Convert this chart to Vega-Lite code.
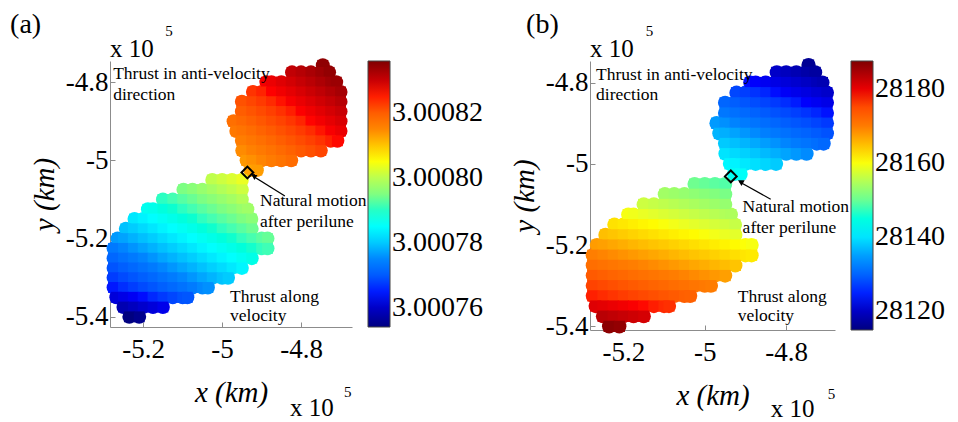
{
"$schema":"https://vega.github.io/schema/vega-lite/v6.json",
"autosize":{"type":"pad"},
"padding":{"left":10,"top":10,"right":0,"bottom":0},
"background":"white",
"spacing":238,
"bounds":"flush",
"config":{
"view":{"stroke":null},
"axis":{"labelFont":"Liberation Serif","labelFontSize":27,"labelColor":"black","titleFont":"Liberation Serif","titleFontSize":29,"titleFontStyle":"italic","titleFontWeight":"normal","titleColor":"black","domainColor":"#8c8c8c","tickColor":"#8c8c8c","tickSize":-5,"grid":false},
"legend":{"labelFont":"Liberation Serif","labelFontSize":28,"labelColor":"black","labelOffset":3,"labelOverlap":false,"gradientStrokeColor":"#444","gradientStrokeWidth":1,"gradientThickness":22,"direction":"vertical","orient":"none"}
},
"datasets":{
"pts":[
{"x":-4.745,"y":-4.757,"ca":3.0008347,"cb":28116.4},
{"x":-4.823,"y":-4.775,"ca":3.0008306,"cb":28120.3},
{"x":-4.8,"y":-4.775,"ca":3.0008315,"cb":28119.6},
{"x":-4.775,"y":-4.775,"ca":3.0008325,"cb":28118.8},
{"x":-4.75,"y":-4.775,"ca":3.0008335,"cb":28118.0},
{"x":-4.729,"y":-4.775,"ca":3.0008344,"cb":28117.4},
{"x":-4.888,"y":-4.8,"ca":3.0008266,"cb":28124.3},
{"x":-4.875,"y":-4.8,"ca":3.0008272,"cb":28123.9},
{"x":-4.85,"y":-4.8,"ca":3.0008282,"cb":28123.1},
{"x":-4.825,"y":-4.8,"ca":3.0008292,"cb":28122.3},
{"x":-4.8,"y":-4.8,"ca":3.0008302,"cb":28121.5},
{"x":-4.775,"y":-4.8,"ca":3.0008312,"cb":28120.8},
{"x":-4.75,"y":-4.8,"ca":3.0008322,"cb":28120.0},
{"x":-4.725,"y":-4.8,"ca":3.0008332,"cb":28119.2},
{"x":-4.711,"y":-4.8,"ca":3.0008337,"cb":28118.8},
{"x":-4.922,"y":-4.825,"ca":3.0008239,"cb":28127.3},
{"x":-4.9,"y":-4.825,"ca":3.0008248,"cb":28126.6},
{"x":-4.875,"y":-4.825,"ca":3.0008258,"cb":28125.8},
{"x":-4.85,"y":-4.825,"ca":3.0008268,"cb":28125.1},
{"x":-4.825,"y":-4.825,"ca":3.0008278,"cb":28124.3},
{"x":-4.8,"y":-4.825,"ca":3.0008288,"cb":28123.5},
{"x":-4.775,"y":-4.825,"ca":3.0008298,"cb":28122.7},
{"x":-4.75,"y":-4.825,"ca":3.0008308,"cb":28122.0},
{"x":-4.725,"y":-4.825,"ca":3.0008318,"cb":28121.2},
{"x":-4.7,"y":-4.825,"ca":3.0008328,"cb":28120.4},
{"x":-4.95,"y":-4.85,"ca":3.0008214,"cb":28130.1},
{"x":-4.925,"y":-4.85,"ca":3.0008224,"cb":28129.4},
{"x":-4.9,"y":-4.85,"ca":3.0008234,"cb":28128.6},
{"x":-4.875,"y":-4.85,"ca":3.0008244,"cb":28127.8},
{"x":-4.85,"y":-4.85,"ca":3.0008254,"cb":28127.0},
{"x":-4.825,"y":-4.85,"ca":3.0008264,"cb":28126.3},
{"x":-4.8,"y":-4.85,"ca":3.0008274,"cb":28125.5},
{"x":-4.775,"y":-4.85,"ca":3.0008284,"cb":28124.7},
{"x":-4.75,"y":-4.85,"ca":3.0008294,"cb":28123.9},
{"x":-4.725,"y":-4.85,"ca":3.0008304,"cb":28123.2},
{"x":-4.7,"y":-4.85,"ca":3.0008314,"cb":28122.4},
{"x":-4.95,"y":-4.875,"ca":3.00082,"cb":28132.1},
{"x":-4.925,"y":-4.875,"ca":3.000821,"cb":28131.3},
{"x":-4.9,"y":-4.875,"ca":3.000822,"cb":28130.6},
{"x":-4.875,"y":-4.875,"ca":3.000823,"cb":28129.8},
{"x":-4.85,"y":-4.875,"ca":3.000824,"cb":28129.0},
{"x":-4.825,"y":-4.875,"ca":3.000825,"cb":28128.2},
{"x":-4.8,"y":-4.875,"ca":3.000826,"cb":28127.5},
{"x":-4.775,"y":-4.875,"ca":3.000827,"cb":28126.7},
{"x":-4.75,"y":-4.875,"ca":3.000828,"cb":28125.9},
{"x":-4.725,"y":-4.875,"ca":3.000829,"cb":28125.1},
{"x":-4.7,"y":-4.875,"ca":3.00083,"cb":28124.4},
{"x":-4.971,"y":-4.9,"ca":3.0008178,"cb":28134.7},
{"x":-4.95,"y":-4.9,"ca":3.0008187,"cb":28134.1},
{"x":-4.925,"y":-4.9,"ca":3.0008197,"cb":28133.3},
{"x":-4.9,"y":-4.9,"ca":3.0008207,"cb":28132.5},
{"x":-4.875,"y":-4.9,"ca":3.0008217,"cb":28131.8},
{"x":-4.85,"y":-4.9,"ca":3.0008227,"cb":28131.0},
{"x":-4.825,"y":-4.9,"ca":3.0008237,"cb":28130.2},
{"x":-4.8,"y":-4.9,"ca":3.0008247,"cb":28129.4},
{"x":-4.775,"y":-4.9,"ca":3.0008257,"cb":28128.7},
{"x":-4.75,"y":-4.9,"ca":3.0008267,"cb":28127.9},
{"x":-4.725,"y":-4.9,"ca":3.0008277,"cb":28127.1},
{"x":-4.7,"y":-4.9,"ca":3.0008287,"cb":28126.3},
{"x":-4.964,"y":-4.925,"ca":3.0008167,"cb":28136.5},
{"x":-4.95,"y":-4.925,"ca":3.0008173,"cb":28136.1},
{"x":-4.925,"y":-4.925,"ca":3.0008183,"cb":28135.3},
{"x":-4.9,"y":-4.925,"ca":3.0008193,"cb":28134.5},
{"x":-4.875,"y":-4.925,"ca":3.0008203,"cb":28133.7},
{"x":-4.85,"y":-4.925,"ca":3.0008213,"cb":28133.0},
{"x":-4.825,"y":-4.925,"ca":3.0008223,"cb":28132.2},
{"x":-4.8,"y":-4.925,"ca":3.0008233,"cb":28131.4},
{"x":-4.775,"y":-4.925,"ca":3.0008243,"cb":28130.6},
{"x":-4.75,"y":-4.925,"ca":3.0008253,"cb":28129.9},
{"x":-4.725,"y":-4.925,"ca":3.0008263,"cb":28129.1},
{"x":-4.7,"y":-4.925,"ca":3.0008273,"cb":28128.3},
{"x":-4.95,"y":-4.95,"ca":3.0008159,"cb":28138.0},
{"x":-4.925,"y":-4.95,"ca":3.0008169,"cb":28137.3},
{"x":-4.9,"y":-4.95,"ca":3.0008179,"cb":28136.5},
{"x":-4.875,"y":-4.95,"ca":3.0008189,"cb":28135.7},
{"x":-4.85,"y":-4.95,"ca":3.0008199,"cb":28134.9},
{"x":-4.825,"y":-4.95,"ca":3.0008209,"cb":28134.2},
{"x":-4.8,"y":-4.95,"ca":3.0008219,"cb":28133.4},
{"x":-4.775,"y":-4.95,"ca":3.0008229,"cb":28132.6},
{"x":-4.75,"y":-4.95,"ca":3.0008239,"cb":28131.8},
{"x":-4.725,"y":-4.95,"ca":3.0008249,"cb":28131.1},
{"x":-4.708,"y":-4.95,"ca":3.0008256,"cb":28130.5},
{"x":-4.949,"y":-4.975,"ca":3.0008146,"cb":28140.0},
{"x":-4.925,"y":-4.975,"ca":3.0008155,"cb":28139.2},
{"x":-4.9,"y":-4.975,"ca":3.0008165,"cb":28138.5},
{"x":-4.875,"y":-4.975,"ca":3.0008175,"cb":28137.7},
{"x":-4.85,"y":-4.975,"ca":3.0008185,"cb":28136.9},
{"x":-4.825,"y":-4.975,"ca":3.0008195,"cb":28136.1},
{"x":-4.8,"y":-4.975,"ca":3.0008205,"cb":28135.4},
{"x":-4.775,"y":-4.975,"ca":3.0008215,"cb":28134.6},
{"x":-4.75,"y":-4.975,"ca":3.0008225,"cb":28133.8},
{"x":-4.938,"y":-5.0,"ca":3.0008136,"cb":28141.6},
{"x":-4.925,"y":-5.0,"ca":3.0008142,"cb":28141.2},
{"x":-4.9,"y":-5.0,"ca":3.0008152,"cb":28140.4},
{"x":-4.875,"y":-5.0,"ca":3.0008162,"cb":28139.7},
{"x":-4.85,"y":-5.0,"ca":3.0008172,"cb":28138.9},
{"x":-4.825,"y":-5.0,"ca":3.0008182,"cb":28138.1},
{"x":-4.928,"y":-5.025,"ca":3.0008127,"cb":28143.3},
{"x":-4.912,"y":-5.025,"ca":3.0008133,"cb":28142.8},
{"x":-5.025,"y":-5.05,"ca":3.0008003,"cb":28150.3},
{"x":-5.0,"y":-5.05,"ca":3.0008014,"cb":28149.8},
{"x":-4.975,"y":-5.05,"ca":3.0008025,"cb":28149.3},
{"x":-4.95,"y":-5.05,"ca":3.0008037,"cb":28148.8},
{"x":-5.098,"y":-5.075,"ca":3.0007948,"cb":28153.8},
{"x":-5.075,"y":-5.075,"ca":3.0007958,"cb":28153.4},
{"x":-5.05,"y":-5.075,"ca":3.000797,"cb":28152.9},
{"x":-5.025,"y":-5.075,"ca":3.0007981,"cb":28152.4},
{"x":-5.0,"y":-5.075,"ca":3.0007992,"cb":28151.9},
{"x":-4.975,"y":-5.075,"ca":3.0008003,"cb":28151.4},
{"x":-4.95,"y":-5.075,"ca":3.0008015,"cb":28150.9},
{"x":-5.15,"y":-5.1,"ca":3.0007903,"cb":28156.9},
{"x":-5.125,"y":-5.1,"ca":3.0007914,"cb":28156.4},
{"x":-5.1,"y":-5.1,"ca":3.0007925,"cb":28155.9},
{"x":-5.075,"y":-5.1,"ca":3.0007936,"cb":28155.4},
{"x":-5.05,"y":-5.1,"ca":3.0007948,"cb":28154.9},
{"x":-5.025,"y":-5.1,"ca":3.0007959,"cb":28154.4},
{"x":-5.0,"y":-5.1,"ca":3.000797,"cb":28153.9},
{"x":-4.975,"y":-5.1,"ca":3.0007981,"cb":28153.4},
{"x":-4.95,"y":-5.1,"ca":3.0007993,"cb":28152.9},
{"x":-5.188,"y":-5.125,"ca":3.0007863,"cb":28159.7},
{"x":-5.175,"y":-5.125,"ca":3.0007869,"cb":28159.4},
{"x":-5.15,"y":-5.125,"ca":3.0007881,"cb":28158.9},
{"x":-5.125,"y":-5.125,"ca":3.0007892,"cb":28158.4},
{"x":-5.1,"y":-5.125,"ca":3.0007903,"cb":28157.9},
{"x":-5.075,"y":-5.125,"ca":3.0007914,"cb":28157.4},
{"x":-5.05,"y":-5.125,"ca":3.0007926,"cb":28156.9},
{"x":-5.025,"y":-5.125,"ca":3.0007937,"cb":28156.4},
{"x":-5.0,"y":-5.125,"ca":3.0007948,"cb":28155.9},
{"x":-4.975,"y":-5.125,"ca":3.0007959,"cb":28155.4},
{"x":-4.95,"y":-5.125,"ca":3.0007971,"cb":28154.9},
{"x":-4.936,"y":-5.125,"ca":3.0007977,"cb":28154.7},
{"x":-5.222,"y":-5.15,"ca":3.0007826,"cb":28162.4},
{"x":-5.2,"y":-5.15,"ca":3.0007836,"cb":28162.0},
{"x":-5.175,"y":-5.15,"ca":3.0007847,"cb":28161.5},
{"x":-5.15,"y":-5.15,"ca":3.0007859,"cb":28161.0},
{"x":-5.125,"y":-5.15,"ca":3.000787,"cb":28160.5},
{"x":-5.1,"y":-5.15,"ca":3.0007881,"cb":28160.0},
{"x":-5.075,"y":-5.15,"ca":3.0007892,"cb":28159.5},
{"x":-5.05,"y":-5.15,"ca":3.0007904,"cb":28159.0},
{"x":-5.025,"y":-5.15,"ca":3.0007915,"cb":28158.5},
{"x":-5.0,"y":-5.15,"ca":3.0007926,"cb":28158.0},
{"x":-4.975,"y":-5.15,"ca":3.0007937,"cb":28157.5},
{"x":-4.95,"y":-5.15,"ca":3.0007949,"cb":28157.0},
{"x":-4.926,"y":-5.15,"ca":3.0007959,"cb":28156.5},
{"x":-5.244,"y":-5.175,"ca":3.0007794,"cb":28164.9},
{"x":-5.225,"y":-5.175,"ca":3.0007803,"cb":28164.5},
{"x":-5.2,"y":-5.175,"ca":3.0007814,"cb":28164.0},
{"x":-5.175,"y":-5.175,"ca":3.0007825,"cb":28163.5},
{"x":-5.15,"y":-5.175,"ca":3.0007837,"cb":28163.0},
{"x":-5.125,"y":-5.175,"ca":3.0007848,"cb":28162.5},
{"x":-5.1,"y":-5.175,"ca":3.0007859,"cb":28162.0},
{"x":-5.075,"y":-5.175,"ca":3.000787,"cb":28161.5},
{"x":-5.05,"y":-5.175,"ca":3.0007882,"cb":28161.0},
{"x":-5.025,"y":-5.175,"ca":3.0007893,"cb":28160.5},
{"x":-5.0,"y":-5.175,"ca":3.0007904,"cb":28160.0},
{"x":-4.975,"y":-5.175,"ca":3.0007915,"cb":28159.5},
{"x":-4.95,"y":-5.175,"ca":3.0007927,"cb":28159.0},
{"x":-4.925,"y":-5.175,"ca":3.0007938,"cb":28158.5},
{"x":-5.265,"y":-5.2,"ca":3.0007763,"cb":28167.4},
{"x":-5.25,"y":-5.2,"ca":3.000777,"cb":28167.1},
{"x":-5.225,"y":-5.2,"ca":3.0007781,"cb":28166.6},
{"x":-5.2,"y":-5.2,"ca":3.0007792,"cb":28166.1},
{"x":-5.175,"y":-5.2,"ca":3.0007803,"cb":28165.6},
{"x":-5.15,"y":-5.2,"ca":3.0007815,"cb":28165.1},
{"x":-5.125,"y":-5.2,"ca":3.0007826,"cb":28164.6},
{"x":-5.1,"y":-5.2,"ca":3.0007837,"cb":28164.1},
{"x":-5.075,"y":-5.2,"ca":3.0007848,"cb":28163.6},
{"x":-5.05,"y":-5.2,"ca":3.000786,"cb":28163.1},
{"x":-5.025,"y":-5.2,"ca":3.0007871,"cb":28162.6},
{"x":-5.0,"y":-5.2,"ca":3.0007882,"cb":28162.1},
{"x":-4.975,"y":-5.2,"ca":3.0007893,"cb":28161.6},
{"x":-4.95,"y":-5.2,"ca":3.0007905,"cb":28161.1},
{"x":-4.925,"y":-5.2,"ca":3.0007916,"cb":28160.6},
{"x":-4.9,"y":-5.2,"ca":3.0007927,"cb":28160.1},
{"x":-4.885,"y":-5.2,"ca":3.0007934,"cb":28159.8},
{"x":-5.275,"y":-5.225,"ca":3.0007736,"cb":28169.6},
{"x":-5.25,"y":-5.225,"ca":3.0007748,"cb":28169.1},
{"x":-5.225,"y":-5.225,"ca":3.0007759,"cb":28168.6},
{"x":-5.2,"y":-5.225,"ca":3.000777,"cb":28168.1},
{"x":-5.175,"y":-5.225,"ca":3.0007781,"cb":28167.6},
{"x":-5.15,"y":-5.225,"ca":3.0007793,"cb":28167.1},
{"x":-5.125,"y":-5.225,"ca":3.0007804,"cb":28166.6},
{"x":-5.1,"y":-5.225,"ca":3.0007815,"cb":28166.1},
{"x":-5.075,"y":-5.225,"ca":3.0007826,"cb":28165.6},
{"x":-5.05,"y":-5.225,"ca":3.0007838,"cb":28165.1},
{"x":-5.025,"y":-5.225,"ca":3.0007849,"cb":28164.6},
{"x":-5.0,"y":-5.225,"ca":3.000786,"cb":28164.1},
{"x":-4.975,"y":-5.225,"ca":3.0007871,"cb":28163.6},
{"x":-4.95,"y":-5.225,"ca":3.0007883,"cb":28163.1},
{"x":-4.925,"y":-5.225,"ca":3.0007894,"cb":28162.6},
{"x":-4.9,"y":-5.225,"ca":3.0007905,"cb":28162.1},
{"x":-4.885,"y":-5.225,"ca":3.0007912,"cb":28161.8},
{"x":-5.275,"y":-5.25,"ca":3.0007714,"cb":28171.6},
{"x":-5.25,"y":-5.25,"ca":3.0007726,"cb":28171.1},
{"x":-5.225,"y":-5.25,"ca":3.0007737,"cb":28170.6},
{"x":-5.2,"y":-5.25,"ca":3.0007748,"cb":28170.1},
{"x":-5.175,"y":-5.25,"ca":3.0007759,"cb":28169.6},
{"x":-5.15,"y":-5.25,"ca":3.0007771,"cb":28169.1},
{"x":-5.125,"y":-5.25,"ca":3.0007782,"cb":28168.6},
{"x":-5.1,"y":-5.25,"ca":3.0007793,"cb":28168.1},
{"x":-5.075,"y":-5.25,"ca":3.0007804,"cb":28167.6},
{"x":-5.05,"y":-5.25,"ca":3.0007816,"cb":28167.1},
{"x":-5.025,"y":-5.25,"ca":3.0007827,"cb":28166.6},
{"x":-5.0,"y":-5.25,"ca":3.0007838,"cb":28166.1},
{"x":-4.975,"y":-5.25,"ca":3.0007849,"cb":28165.6},
{"x":-4.95,"y":-5.25,"ca":3.0007861,"cb":28165.1},
{"x":-4.925,"y":-5.25,"ca":3.0007872,"cb":28164.6},
{"x":-5.275,"y":-5.275,"ca":3.0007692,"cb":28173.7},
{"x":-5.25,"y":-5.275,"ca":3.0007704,"cb":28173.2},
{"x":-5.225,"y":-5.275,"ca":3.0007715,"cb":28172.7},
{"x":-5.2,"y":-5.275,"ca":3.0007726,"cb":28172.2},
{"x":-5.175,"y":-5.275,"ca":3.0007737,"cb":28171.7},
{"x":-5.15,"y":-5.275,"ca":3.0007749,"cb":28171.2},
{"x":-5.125,"y":-5.275,"ca":3.000776,"cb":28170.7},
{"x":-5.1,"y":-5.275,"ca":3.0007771,"cb":28170.2},
{"x":-5.075,"y":-5.275,"ca":3.0007782,"cb":28169.7},
{"x":-5.05,"y":-5.275,"ca":3.0007794,"cb":28169.2},
{"x":-5.025,"y":-5.275,"ca":3.0007805,"cb":28168.7},
{"x":-5.0,"y":-5.275,"ca":3.0007816,"cb":28168.2},
{"x":-4.975,"y":-5.275,"ca":3.0007827,"cb":28167.7},
{"x":-4.95,"y":-5.275,"ca":3.0007839,"cb":28167.2},
{"x":-5.275,"y":-5.3,"ca":3.000767,"cb":28175.7},
{"x":-5.25,"y":-5.3,"ca":3.0007682,"cb":28175.2},
{"x":-5.225,"y":-5.3,"ca":3.0007693,"cb":28174.7},
{"x":-5.2,"y":-5.3,"ca":3.0007704,"cb":28174.2},
{"x":-5.175,"y":-5.3,"ca":3.0007715,"cb":28173.7},
{"x":-5.15,"y":-5.3,"ca":3.0007727,"cb":28173.2},
{"x":-5.125,"y":-5.3,"ca":3.0007738,"cb":28172.7},
{"x":-5.1,"y":-5.3,"ca":3.0007749,"cb":28172.2},
{"x":-5.075,"y":-5.3,"ca":3.000776,"cb":28171.7},
{"x":-5.05,"y":-5.3,"ca":3.0007772,"cb":28171.2},
{"x":-5.025,"y":-5.3,"ca":3.0007783,"cb":28170.7},
{"x":-5.0,"y":-5.3,"ca":3.0007794,"cb":28170.2},
{"x":-4.985,"y":-5.3,"ca":3.0007801,"cb":28169.9},
{"x":-5.275,"y":-5.325,"ca":3.0007648,"cb":28177.7},
{"x":-5.25,"y":-5.325,"ca":3.000766,"cb":28177.2},
{"x":-5.225,"y":-5.325,"ca":3.0007671,"cb":28176.7},
{"x":-5.2,"y":-5.325,"ca":3.0007682,"cb":28176.2},
{"x":-5.175,"y":-5.325,"ca":3.0007693,"cb":28175.7},
{"x":-5.15,"y":-5.325,"ca":3.0007705,"cb":28175.2},
{"x":-5.125,"y":-5.325,"ca":3.0007716,"cb":28174.7},
{"x":-5.1,"y":-5.325,"ca":3.0007727,"cb":28174.2},
{"x":-5.075,"y":-5.325,"ca":3.0007738,"cb":28173.7},
{"x":-5.05,"y":-5.325,"ca":3.000775,"cb":28173.2},
{"x":-5.036,"y":-5.325,"ca":3.0007756,"cb":28173.0},
{"x":-5.268,"y":-5.35,"ca":3.0007614,"cb":28180.6},
{"x":-5.25,"y":-5.35,"ca":3.0007623,"cb":28180.3},
{"x":-5.225,"y":-5.35,"ca":3.0007634,"cb":28179.8},
{"x":-5.2,"y":-5.35,"ca":3.0007645,"cb":28179.3},
{"x":-5.175,"y":-5.35,"ca":3.0007656,"cb":28178.8},
{"x":-5.15,"y":-5.35,"ca":3.0007668,"cb":28178.3},
{"x":-5.125,"y":-5.35,"ca":3.0007679,"cb":28177.8},
{"x":-5.1,"y":-5.35,"ca":3.000769,"cb":28177.3},
{"x":-5.088,"y":-5.35,"ca":3.0007695,"cb":28177.0},
{"x":-5.25,"y":-5.375,"ca":3.0007581,"cb":28183.3},
{"x":-5.225,"y":-5.375,"ca":3.0007592,"cb":28182.8},
{"x":-5.2,"y":-5.375,"ca":3.0007603,"cb":28182.3},
{"x":-5.175,"y":-5.375,"ca":3.0007614,"cb":28181.8},
{"x":-5.15,"y":-5.375,"ca":3.0007626,"cb":28181.3},
{"x":-5.235,"y":-5.4,"ca":3.000754,"cb":28186.6},
{"x":-5.21,"y":-5.4,"ca":3.0007552,"cb":28186.1}
],
"perilune":[{"x":-4.936,"y":-5.031}],
"arrow_a":[{"x":-4.841,"y":-5.091,"x2":-4.922,"y2":-5.04}],
"head_a":[{"x":-4.92,"y":-5.039}],
"arrow_b":[{"x":-4.838,"y":-5.087,"x2":-4.914,"y2":-5.045}],
"head_b":[{"x":-4.912,"y":-5.044}],
"notes_a":[
{"x":-5.276,"y":-4.793,"t":"Thrust in anti-velocity"},
{"x":-5.276,"y":-4.846,"t":"direction"},
{"x":-4.904,"y":-5.117,"t":"Natural motion"},
{"x":-4.904,"y":-5.171,"t":"after perilune"},
{"x":-4.98,"y":-5.362,"t":"Thrust along"},
{"x":-4.98,"y":-5.411,"t":"velocity"}
],
"notes_b":[
{"x":-5.267,"y":-4.794,"t":"Thrust in anti-velocity"},
{"x":-5.267,"y":-4.843,"t":"direction"},
{"x":-4.907,"y":-5.119,"t":"Natural motion"},
{"x":-4.907,"y":-5.17,"t":"after perilune"},
{"x":-4.919,"y":-5.34,"t":"Thrust along"},
{"x":-4.919,"y":-5.387,"t":"velocity"}
],
"mult_a":[{"x":-5.284,"y":-4.735,"t":"x 10"},{"x":-4.828,"y":-5.653,"t":"x 10"}],
"sup_a":[{"x":-5.144,"y":-4.683,"t":"5"},{"x":-4.691,"y":-5.605,"t":"5"}],
"mult_b":[{"x":-5.282,"y":-4.736,"t":"x 10"},{"x":-4.838,"y":-5.623,"t":"x 10"}],
"sup_b":[{"x":-5.145,"y":-4.686,"t":"5"},{"x":-4.698,"y":-5.578,"t":"5"}],
"label_a":[{"x":-5.537,"y":-4.675,"t":"(a)"}],
"label_b":[{"x":-5.439,"y":-4.678,"t":"(b)"}]
},
"hconcat":[
{
"width":242,"height":266,
"encoding":{
"x":{"field":"x","type":"quantitative","title":"x (km)","scale":{"domain":[-5.284,-4.671],"nice":false,"zero":false},"axis":{"values":[-5.2,-5,-4.8],"labelExpr":"replace(format(datum.value, '~g'), '\u2212', '-')","labelFont":"Liberation Serif","titleFont":"Liberation Serif","labelPadding":14,"titlePadding":16}},
"y":{"field":"y","type":"quantitative","title":"y (km)","scale":{"domain":[-5.426,-4.746],"nice":false,"zero":false},"axis":{"values":[-5.4,-5.2,-5,-4.8],"labelExpr":"replace(format(datum.value, '~g'), '\u2212', '-')","labelFont":"Liberation Serif","titleFont":"Liberation Serif","labelPadding":7,"titlePadding":6}}
},
"layer":[
{"data":{"name":"pts"},"mark":{"type":"point","shape":"circle","filled":true,"size":195,"opacity":1,"strokeWidth":0},
"encoding":{"color":{"field":"ca","type":"quantitative","scale":{"domain":[3.000754,3.00076425,3.0007745,3.00078475,3.000795,3.00080525,3.0008155,3.00082575,3.000836],"range":["#000080","#0000ff","#0080ff","#00ffff","#80ff80","#ffff00","#ff8000","#ff0000","#800000"]},
"legend":{"legendX":258,"legendY":0,"gradientLength":266,"title":null,"values":[3.00076,3.00078,3.0008,3.00082],"format":".5f","labelFont":"Liberation Serif"}}}},
{"data":{"name":"pts"},"mark":{"type":"point","shape":"square","filled":true,"size":118,"opacity":1,"strokeWidth":0},
"encoding":{"color":{"field":"ca","type":"quantitative"}}},
{"data":{"name":"perilune"},"mark":{"type":"point","shape":"diamond","filled":false,"stroke":"black","strokeWidth":2,"size":140,"opacity":1}},
{"data":{"name":"arrow_a"},"mark":{"type":"rule","color":"black","strokeWidth":1.2},"encoding":{"x2":{"field":"x2"},"y2":{"field":"y2"}}},
{"data":{"name":"head_a"},"mark":{"type":"point","shape":"triangle-up","filled":true,"color":"black","size":45,"angle":-58,"opacity":1}},
{"data":{"name":"notes_a"},"mark":{"type":"text","align":"left","baseline":"alphabetic","font":"Liberation Serif","fontSize":17.5,"color":"black"},"encoding":{"text":{"field":"t"}}},
{"data":{"name":"mult_a"},"mark":{"type":"text","align":"left","baseline":"alphabetic","font":"Liberation Serif","fontSize":25,"color":"black"},"encoding":{"text":{"field":"t"}}},
{"data":{"name":"sup_a"},"mark":{"type":"text","align":"left","baseline":"alphabetic","font":"Liberation Serif","fontSize":15,"color":"black"},"encoding":{"text":{"field":"t"}}},
{"data":{"name":"label_a"},"mark":{"type":"text","align":"left","baseline":"alphabetic","font":"Liberation Serif","fontSize":28,"color":"black"},"encoding":{"text":{"field":"t"}}}
]
},
{
"width":245,"height":269,
"encoding":{
"x":{"field":"x","type":"quantitative","title":"x (km)","scale":{"domain":[-5.282,-4.68],"nice":false,"zero":false},"axis":{"values":[-5.2,-5,-4.8],"labelExpr":"replace(format(datum.value, '~g'), '\u2212', '-')","labelFont":"Liberation Serif","titleFont":"Liberation Serif","labelPadding":14,"titlePadding":16}},
"y":{"field":"y","type":"quantitative","title":"y (km)","scale":{"domain":[-5.409,-4.747],"nice":false,"zero":false},"axis":{"values":[-5.4,-5.2,-5,-4.8],"labelExpr":"replace(format(datum.value, '~g'), '\u2212', '-')","labelFont":"Liberation Serif","titleFont":"Liberation Serif","labelPadding":7,"titlePadding":6}}
},
"layer":[
{"data":{"name":"pts"},"mark":{"type":"point","shape":"circle","filled":true,"size":205,"opacity":1,"strokeWidth":0},
"encoding":{"color":{"field":"cb","type":"quantitative","scale":{"domain":[28115,28124.0625,28133.125,28142.1875,28151.25,28160.3125,28169.375,28178.4375,28187.5],"range":["#000080","#0000ff","#0080ff","#00ffff","#80ff80","#ffff00","#ff8000","#ff0000","#800000"]},
"legend":{"legendX":261,"legendY":0,"gradientLength":269,"title":null,"values":[28120,28140,28160,28180],"format":"d","labelFont":"Liberation Serif"}}}},
{"data":{"name":"pts"},"mark":{"type":"point","shape":"square","filled":true,"size":126,"opacity":1,"strokeWidth":0},
"encoding":{"color":{"field":"cb","type":"quantitative"}}},
{"data":{"name":"perilune"},"mark":{"type":"point","shape":"diamond","filled":false,"stroke":"black","strokeWidth":2,"size":140,"opacity":1}},
{"data":{"name":"arrow_b"},"mark":{"type":"rule","color":"black","strokeWidth":1.2},"encoding":{"x2":{"field":"x2"},"y2":{"field":"y2"}}},
{"data":{"name":"head_b"},"mark":{"type":"point","shape":"triangle-up","filled":true,"color":"black","size":45,"angle":-61,"opacity":1}},
{"data":{"name":"notes_b"},"mark":{"type":"text","align":"left","baseline":"alphabetic","font":"Liberation Serif","fontSize":17.5,"color":"black"},"encoding":{"text":{"field":"t"}}},
{"data":{"name":"mult_b"},"mark":{"type":"text","align":"left","baseline":"alphabetic","font":"Liberation Serif","fontSize":25,"color":"black"},"encoding":{"text":{"field":"t"}}},
{"data":{"name":"sup_b"},"mark":{"type":"text","align":"left","baseline":"alphabetic","font":"Liberation Serif","fontSize":15,"color":"black"},"encoding":{"text":{"field":"t"}}},
{"data":{"name":"label_b"},"mark":{"type":"text","align":"left","baseline":"alphabetic","font":"Liberation Serif","fontSize":28,"color":"black"},"encoding":{"text":{"field":"t"}}}
]
}
],
"resolve":{"scale":{"color":"independent","x":"independent","y":"independent"}}
}
